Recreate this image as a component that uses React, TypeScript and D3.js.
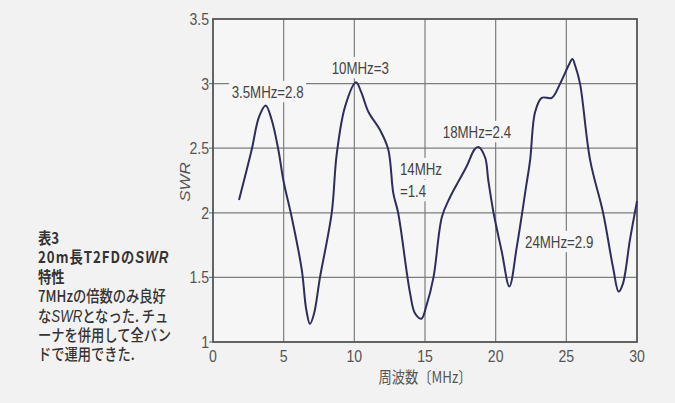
import React, { useEffect, useRef } from "react";
import * as d3 from "d3";

const freqs = [1.84, 2.74, 3.25, 3.73, 4.15, 4.62, 5.0, 5.6, 6.28, 6.6, 6.86, 7.15, 7.57, 8.4, 8.75, 9.34, 10.12, 10.5, 11.0, 11.82, 12.4, 12.76, 13.1, 13.94, 14.3, 14.75, 15.1, 15.6, 16.2, 16.77, 17.95, 18.5, 18.78, 19.25, 19.48, 19.85, 20.43, 20.97, 21.5, 22.15, 22.44, 22.79, 23.26, 23.97, 24.56, 25.2, 25.43, 25.65, 25.97, 26.68, 27.6, 28.3, 28.7, 29.0, 29.5, 30.0];
const swr = [2.1, 2.49, 2.74, 2.83, 2.72, 2.49, 2.24, 1.95, 1.56, 1.25, 1.14, 1.22, 1.5, 2.0, 2.45, 2.82, 3.01, 2.93, 2.78, 2.64, 2.49, 2.15, 2.0, 1.38, 1.22, 1.18, 1.28, 1.5, 1.97, 2.12, 2.36, 2.49, 2.51, 2.43, 2.25, 2.0, 1.7, 1.43, 1.74, 2.2, 2.41, 2.78, 2.89, 2.89, 3.0, 3.15, 3.19, 3.13, 3.0, 2.41, 2.0, 1.58, 1.39, 1.45, 1.79, 2.09];

const xTicks = [0, 5, 10, 15, 20, 25, 30];
const yTicks = [1, 1.5, 2, 2.5, 3, 3.5];
const yTickLabels = ["1", "1.5", "2", "2.5", "3", "3.5"];

const annTexts = ["3.5MHz=2.8", "10MHz=3", "14MHz", "=1.4", "18MHz=2.4", "24MHz=2.9"];
const annX = [1.32, 8.4, 13.23, 13.23, 16.26, 22.08];
const annY = [2.889, 3.074, 2.293, 2.122, 2.579, 1.728];

const captionLines = ["表3", "20m長T2FDの|SWR", "特性", "7MHzの倍数のみ良好", "な|SWR|となった. チュ", "ーナを併用して全バン", "ドで運用できた."];

const SX = 0.83;

export default function App() {
  const ref = useRef<SVGSVGElement>(null);
  useEffect(() => {
    const svg = d3.select(ref.current);
    svg.selectAll("*").remove();
    const W = 675, H = 403;
    const left = 213, right = 637, top = 19, bottom = 342;
    const x = d3.scaleLinear().domain([0, 30]).range([left, right]);
    const y = d3.scaleLinear().domain([1, 3.5]).range([bottom, top]);

    svg.append("rect").attr("width", W).attr("height", H).attr("fill", "#f3f2f2");
    svg.append("rect").attr("x", left).attr("y", top).attr("width", right - left).attr("height", bottom - top).attr("fill", "#f7f6f6");

    const grid = svg.append("g").attr("stroke", "#7d7d7d").attr("stroke-width", 1.2);
    xTicks.slice(1, -1).forEach((t) => {
      grid.append("line").attr("x1", x(t)).attr("x2", x(t)).attr("y1", top).attr("y2", bottom);
    });
    yTicks.slice(1, -1).forEach((t) => {
      grid.append("line").attr("x1", left - 4).attr("x2", right).attr("y1", y(t)).attr("y2", y(t));
    });
    grid.append("line").attr("x1", left - 4).attr("x2", left).attr("y1", y(1)).attr("y2", y(1));

    const tickFont = "'Liberation Sans', Arial, sans-serif";
    yTicks.forEach((t, i) => {
      svg.append("text").attr("transform", `translate(${left - 4},${y(t) + 6}) scale(${SX},1)`)
        .attr("text-anchor", "end").attr("font-family", tickFont).attr("font-size", 17).attr("fill", "#555")
        .text(yTickLabels[i]);
    });
    xTicks.forEach((t) => {
      svg.append("text").attr("transform", `translate(${x(t)},${bottom + 20}) scale(${SX},1)`)
        .attr("text-anchor", "middle").attr("font-family", tickFont).attr("font-size", 17).attr("fill", "#555")
        .text(String(t));
    });

    svg.append("text").attr("transform", `translate(${(left + right) / 2},${bottom + 41}) scale(${SX},1)`)
      .attr("text-anchor", "middle").attr("font-family", "'Noto Sans CJK JP', sans-serif").attr("font-size", 16).attr("fill", "#555")
      .text("周波数〔MHz〕");

    svg.append("text").attr("transform", `translate(${190},${182}) scale(${SX},1) rotate(-90)`)
      .attr("text-anchor", "middle").attr("font-family", tickFont).attr("font-style", "italic").attr("font-size", 17).attr("fill", "#555")
      .text("SWR");

    // annotations with background
    annTexts.forEach((s, i) => {
      const g = svg.append("g").attr("transform", `translate(${x(annX[i])},${y(annY[i])}) scale(${SX},1)`);
      const r = g.append("rect").attr("fill", "#f7f6f6");
      const t = g.append("text").attr("font-family", tickFont).attr("font-size", 16).attr("fill", "#444").text(s);
      const bb = (t.node() as SVGTextElement).getBBox();
      r.attr("x", bb.x - 3).attr("y", bb.y - 3).attr("width", bb.width + 6).attr("height", bb.height + 4);
    });

    svg.append("rect").attr("x", left).attr("y", top).attr("width", right - left).attr("height", bottom - top)
      .attr("fill", "none").attr("stroke", "#555").attr("stroke-width", 1.8);

    const pts: [number, number][] = freqs.map((f, i) => [f, swr[i]]);
    const line = d3.line<[number, number]>().x((d) => x(d[0])).y((d) => y(d[1])).curve(d3.curveCatmullRom.alpha(0.5));
    svg.append("path").attr("d", line(pts)).attr("fill", "none").attr("stroke", "#2d2d5e").attr("stroke-width", 2);

    // caption
    const cap = svg.append("g").attr("font-family", "'Noto Sans CJK JP', sans-serif").attr("font-size", 16).attr("fill", "#333");
    captionLines.forEach((ln, i) => {
      const t = cap.append("text").attr("transform", `translate(38,${244 + i * 19.4}) scale(${SX},1)`)
        .attr("font-weight", i < 3 ? 700 : 500);
      if (i === 1) t.attr("letter-spacing", 1.2);
      ln.split("|").forEach((part) => {
        const sp = t.append("tspan").text(part);
        if (part === "SWR") sp.attr("font-style", "italic").attr("font-family", "'Liberation Sans', sans-serif");
      });
    });
  }, []);
  return (
    <svg ref={ref} width={675} height={403} style={{ position: "fixed", left: 0, top: 0 }} />
  );
}
